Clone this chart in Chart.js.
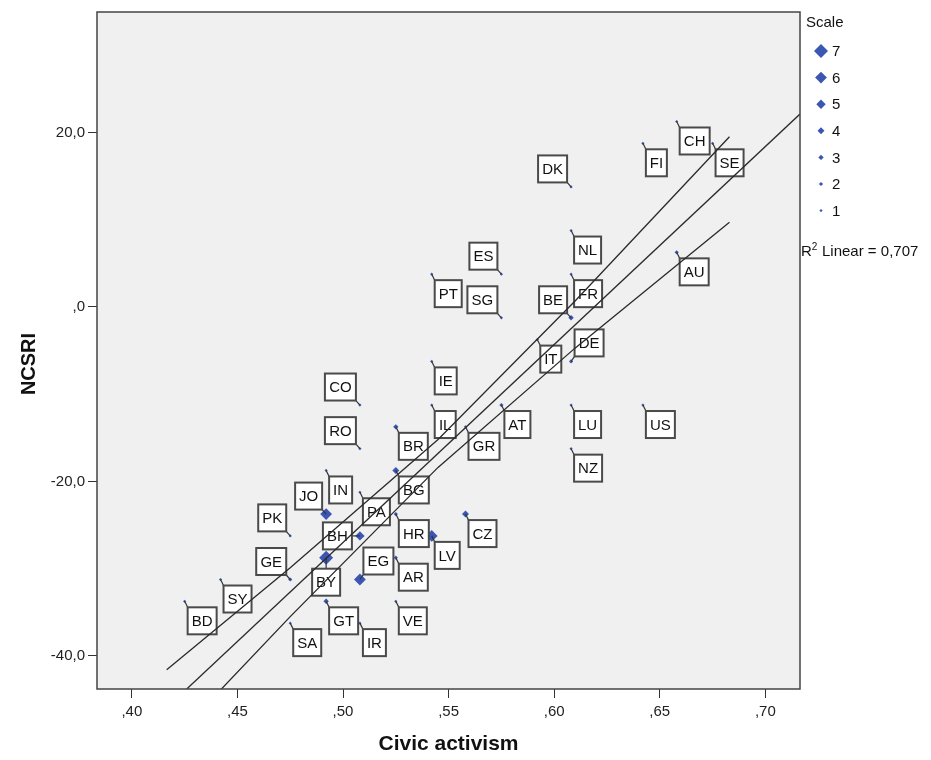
<!DOCTYPE html>
<html lang="en">
<head>
    <meta charset="UTF-8">
    <title>NCSRI vs Civic activism</title>
    <script src="https://cdn.jsdelivr.net/npm/chart.js"></script>
    <style>
        body { margin: 0; background: #fff; }
        .wrap { width: 931px; height: 760px; position: relative; }
    </style>
</head>
<body>
<div class="wrap"><canvas id="chart"></canvas></div>
<script>
    // values
    const countries = ['CH','FI','SE','DK','NL','AU','ES','PT','FR','SG','BE','IT','DE','IE','CO','IL','AT','LU','US','BR','GR','RO','NZ','IN','BG','PA','JO','HR','CZ','PK','BH','LV','BY','AR','GE','EG','SY','BD','GT','VE','SA','IR'];
    const civic = [0.658,0.642,0.675,0.608,0.608,0.658,0.575,0.542,0.608,0.575,0.608,0.592,0.608,0.542,0.508,0.542,0.575,0.608,0.642,0.525,0.558,0.508,0.608,0.492,0.525,0.508,0.492,0.525,0.558,0.475,0.508,0.542,0.492,0.525,0.475,0.508,0.442,0.425,0.492,0.525,0.475,0.508];
    const ncsri = [21.25,18.75,18.75,13.75,8.75,6.25,3.75,3.75,3.75,-1.25,-1.25,-3.75,-6.25,-6.25,-11.25,-11.25,-11.25,-11.25,-11.25,-13.75,-13.75,-16.25,-16.25,-18.75,-18.75,-21.25,-23.75,-23.75,-23.75,-26.25,-26.25,-26.25,-28.75,-28.75,-31.25,-31.25,-31.25,-33.75,-33.75,-33.75,-36.25,-36.25];
    const scale = [1,1,1,1,1,2,1,1,1,1,3,1,2,1,1,1,2,1,1,3,1,1,1,1,4,1,6,2,4,1,5,6,7,2,2,6,1,1,3,1,1,1];
    const scaleLevels = [7, 6, 5, 4, 3, 2, 1];

    const xTicks = [0.40, 0.45, 0.50, 0.55, 0.60, 0.65, 0.70];
    const yTicks = [-40, -20, 0, 20];

    // linear fit and its mean CI band
    const fitX = [0.426, 0.7164];
    const fitY = [-43.8, 22.1];
    const ciX = [0.4165, 0.475, 0.545, 0.61, 0.683];
    const ciUpper = [-41.6, -29.9, -15.2, 0.7, 19.5];
    const ciLower = [-50.4, -35.5, -18.4, -4.7, 9.7];
    const r2Text = '0,707';

    // label box placement (default: below right)
    const labelSide = { DK: 'tl', ES: 'tl', SG: 'tl', BE: 'tl', CO: 'tl', RO: 'tl', JO: 'tl', PK: 'tl', GE: 'tl', DE: 'tr', EG: 'tr', BH: 'l', BY: 'b' };

    const FONT = '"Liberation Sans", Arial, sans-serif';
    const BLUE = '#3b57b3';
    const sizeRadius = [1.6, 2.1, 2.7, 3.5, 4.7, 5.9, 7];

    const fmtX = v => v.toFixed(2).replace(/^0/, '').replace('.', ',');
    const fmtY = v => v.toFixed(1).replace('.', ',').replace(/^(-?)0,/, '$1,');

    function diamond(ctx, x, y, r) {
        ctx.beginPath();
        ctx.moveTo(x, y - r);
        ctx.lineTo(x + r, y);
        ctx.lineTo(x, y + r);
        ctx.lineTo(x - r, y);
        ctx.closePath();
        ctx.fill();
    }

    const spssPlugin = {
        id: 'spss',
        beforeDatasetsDraw(chart) {
            const { ctx, chartArea: a } = chart;
            ctx.save();
            ctx.fillStyle = '#f0f0f0';
            ctx.fillRect(a.left, a.top, a.right - a.left, a.bottom - a.top);
            ctx.restore();
        },
        afterDatasetDraw(chart, args) {
            if (args.index !== 3) return;
            const ctx = chart.ctx;
            ctx.save();
            ctx.font = '15px ' + FONT;
            ctx.textAlign = 'center';
            ctx.textBaseline = 'middle';
            args.meta.data.forEach((pt, i) => {
                const code = countries[i];
                const w = Math.round(ctx.measureText(code).width) + 8;
                const h = 27;
                const px = pt.x, py = pt.y;
                const side = labelSide[code] || 'br';
                let bx, by, lx, ly;
                if (side === 'br') { bx = px + 3; by = py + 6; lx = bx; ly = by; }
                else if (side === 'tl') { bx = px - 4 - w; by = py - 4.5 - h; lx = bx + w; ly = by + h; }
                else if (side === 'tr') { bx = px + 3.5; by = py - 5 - h; lx = bx; ly = by + h; }
                else if (side === 'l') { bx = px - 8 - w; by = py - h / 2; lx = bx + w; ly = py; }
                else { bx = px - w / 2; by = py + 11; lx = px; ly = by; }
                ctx.strokeStyle = '#333';
                ctx.lineWidth = 1.2;
                ctx.beginPath();
                ctx.moveTo(px, py);
                ctx.lineTo(lx, ly);
                ctx.stroke();
                ctx.fillStyle = '#fff';
                ctx.fillRect(bx, by, w, h);
                ctx.strokeStyle = '#4a4a4a';
                ctx.lineWidth = 2;
                ctx.strokeRect(bx, by, w, h);
                ctx.fillStyle = '#111';
                ctx.fillText(code, bx + w / 2, by + h / 2 + 1);
            });
            ctx.restore();
        },
        afterDraw(chart) {
            const { ctx, chartArea: a } = chart;
            ctx.save();
            // frame
            ctx.strokeStyle = '#444';
            ctx.lineWidth = 1.5;
            ctx.strokeRect(a.left, a.top, a.right - a.left, a.bottom - a.top);

            // axis titles
            ctx.fillStyle = '#111';
            ctx.font = 'bold 21px ' + FONT;
            ctx.textAlign = 'center';
            ctx.textBaseline = 'middle';
            ctx.fillText('Civic activism', (a.left + a.right) / 2, 744);
            ctx.save();
            ctx.font = 'bold 20px ' + FONT;
            ctx.translate(29, 364);
            ctx.rotate(-Math.PI / 2);
            ctx.fillText('NCSRI', 0, 0);
            ctx.restore();

            // legend
            ctx.textAlign = 'left';
            ctx.font = '15px ' + FONT;
            ctx.fillText('Scale', 806, 23);
            scaleLevels.forEach((s, k) => {
                const y = 51 + k * 26.6;
                ctx.fillStyle = BLUE;
                diamond(ctx, 821, y, sizeRadius[s - 1]);
                ctx.fillStyle = '#111';
                ctx.fillText(String(s), 832, y + 1);
            });
            ctx.fillText('R', 801, 252);
            const rw = ctx.measureText('R').width;
            ctx.font = '10px ' + FONT;
            ctx.fillText('2', 801 + rw, 247);
            ctx.font = '15px ' + FONT;
            ctx.fillText(' Linear = ' + r2Text, 801 + rw + 6, 252);
            ctx.restore();
        }
    };

    const lineStyle = { showLine: true, borderColor: '#2a2a2a', borderWidth: 1.3, pointRadius: 0, fill: false };

    new Chart(document.getElementById('chart'), {
        type: 'scatter',
        data: {
            datasets: [
                Object.assign({ label: 'Fit', data: fitX.map((x, i) => ({ x, y: fitY[i] })) }, lineStyle),
                Object.assign({ label: 'Upper', data: ciX.map((x, i) => ({ x, y: ciUpper[i] })) }, lineStyle),
                Object.assign({ label: 'Lower', data: ciX.map((x, i) => ({ x, y: ciLower[i] })) }, lineStyle),
                {
                    label: 'Countries',
                    data: civic.map((x, i) => ({ x, y: ncsri[i] })),
                    pointStyle: 'rectRot',
                    pointRadius: c => sizeRadius[scale[c.dataIndex] - 1],
                    backgroundColor: BLUE,
                    borderColor: BLUE,
                    borderWidth: 0
                }
            ]
        },
        options: {
            responsive: true,
            maintainAspectRatio: false,
            animation: false,
            events: [],
            layout: { padding: { left: 0, top: 10, right: 131, bottom: 0 } },
            plugins: { legend: { display: false }, tooltip: { enabled: false } },
            scales: {
                x: {
                    type: 'linear',
                    min: 0.3835,
                    max: 0.7164,
                    afterBuildTicks: s => { s.ticks = xTicks.map(v => ({ value: v })); },
                    afterFit: s => { s.height = 71; },
                    border: { display: false },
                    grid: { drawOnChartArea: false, drawTicks: true, tickLength: 9, color: '#333' },
                    ticks: { callback: v => fmtX(v), font: { size: 15, family: FONT }, color: '#222', padding: 5, maxRotation: 0, autoSkip: false }
                },
                y: {
                    type: 'linear',
                    min: -43.8,
                    max: 33.8,
                    afterBuildTicks: s => { s.ticks = yTicks.map(v => ({ value: v })); },
                    afterFit: s => { s.width = 97; },
                    border: { display: false },
                    grid: { drawOnChartArea: false, drawTicks: true, tickLength: 9, color: '#333' },
                    ticks: { callback: v => fmtY(v), font: { size: 15, family: FONT }, color: '#222', padding: 3, autoSkip: false }
                }
            }
        },
        plugins: [spssPlugin]
    });
</script>
</body>
</html>
